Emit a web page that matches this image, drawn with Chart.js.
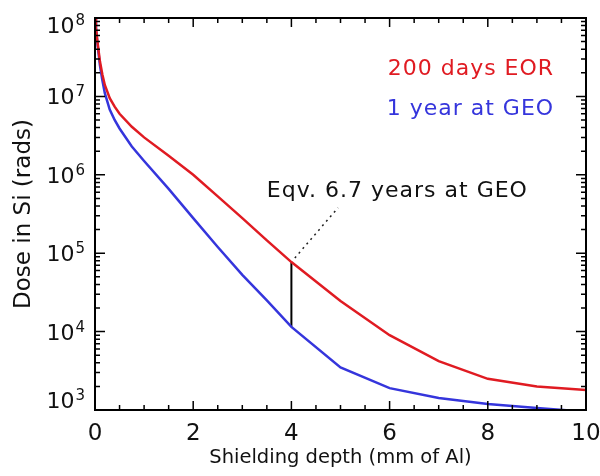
<!DOCTYPE html>
<html lang="en">
<head>
    <meta charset="UTF-8">
    <title>Dose vs shielding depth</title>
    <script src="https://cdn.jsdelivr.net/npm/chart.js"></script>
    <style>
        html, body { margin: 0; padding: 0; background: #fff; }
        #wrap { width: 600px; height: 476px; }
    </style>
</head>
<body>
    <div id="wrap"><canvas id="doseChart" width="600" height="476"></canvas></div>

    <script>
        // shielding depth in mm of Al
        const depths = [0, 0.02, 0.05, 0.1, 0.15, 0.2, 0.3, 0.4, 0.5, 0.75, 1, 1.5, 2, 2.5, 3, 3.5, 4, 5, 6, 7, 8, 9, 10];
        // dose in Si (rads)
        const eorDose = [1.0e8, 7.5e7, 5.0e7, 2.8e7, 1.9e7, 1.4e7, 9.5e6, 7.4e6, 6.0e6, 4.1e6, 3.0e6, 1.75e6, 1.0e6, 5.3e5, 2.8e5, 1.46e5, 7.7e4, 2.45e4, 9.0e3, 4.2e3, 2.5e3, 2.0e3, 1.8e3];
        const geoDose = [1.0e8, 7.3e7, 4.7e7, 2.5e7, 1.6e7, 1.1e7, 6.8e6, 5.0e6, 3.9e6, 2.3e6, 1.5e6, 6.6e5, 2.8e5, 1.2e5, 5.3e4, 2.5e4, 1.15e4, 3.5e3, 1.9e3, 1.42e3, 1.19e3, 1.06e3, 0.95e3];

        const seriesNames = ["200 days EOR", "1 year at GEO"];
        const xTicks = [0, 2, 4, 6, 8, 10];
        const yExponents = [3, 4, 5, 6, 7, 8];

        // annotation: bar at 4 mm and dotted leader to the label
        const markDepth = 4;
        const leaderX = [4.07, 4.95];
        const leaderY = [8.7e4, 3.8e5];
        const noteText = "Eqv. 6.7 years at GEO";

        const RED = "#e01b22";
        const BLUE = "#3535dc";
        const FONT = "DejaVu Sans";

        const points = (xs, ys) => xs.map((x, i) => ({ x: x, y: ys[i] }));
        const markIdx = depths.indexOf(markDepth);

        const frameTicks = {
            id: "frameTicks",
            afterDraw(chart) {
                const { ctx, chartArea: a, scales: { x, y } } = chart;
                ctx.save();
                ctx.strokeStyle = "#000";
                ctx.lineWidth = 2;
                ctx.strokeRect(a.left, a.top, a.right - a.left, a.bottom - a.top);

                ctx.lineWidth = 1.5;
                ctx.beginPath();
                // x ticks every 0.5 mm, major every 2
                for (let v = 0; v <= 10.001; v += 0.5) {
                    const px = x.getPixelForValue(v);
                    const len = (Math.round(v * 2) % 4 === 0) ? 9 : 5;
                    ctx.moveTo(px, a.bottom); ctx.lineTo(px, a.bottom - len);
                    ctx.moveTo(px, a.top); ctx.lineTo(px, a.top + len);
                }
                // y ticks: decades + minors
                for (let e = 3; e <= 8; e++) {
                    for (let m = 1; m <= 9; m++) {
                        const val = m * Math.pow(10, e);
                        if (val > 1e8) break;
                        const py = y.getPixelForValue(val);
                        const len = m === 1 ? 10 : 5;
                        ctx.moveTo(a.left, py); ctx.lineTo(a.left + len, py);
                        ctx.moveTo(a.right, py); ctx.lineTo(a.right - len, py);
                    }
                }
                ctx.stroke();

                // y tick labels, 10 with raised exponent
                ctx.fillStyle = "#111";
                ctx.textBaseline = "alphabetic";
                yExponents.forEach(e => {
                    let py = y.getPixelForValue(Math.pow(10, e)) + 8;
                    if (e === 8) py += 7;
                    if (e === 3) py -= 10;
                    ctx.font = "15px '" + FONT + "'";
                    ctx.textAlign = "left";
                    const expW = ctx.measureText(String(e)).width;
                    const expX = a.left - 10 - expW;
                    ctx.fillText(String(e), expX, py - 8);
                    ctx.font = "22px '" + FONT + "'";
                    ctx.textAlign = "right";
                    ctx.fillText("10", expX - 1, py);
                });

                // series labels
                ctx.font = "22px '" + FONT + "'";
                ctx.letterSpacing = "1px";
                ctx.textAlign = "right";
                ctx.textBaseline = "middle";
                ctx.fillStyle = RED;
                ctx.fillText(seriesNames[0], x.getPixelForValue(9.33) + 1, y.getPixelForValue(2.2e7));
                ctx.fillStyle = BLUE;
                ctx.fillText(seriesNames[1], x.getPixelForValue(9.33) + 1, y.getPixelForValue(6.9e6));

                // annotation label
                ctx.fillStyle = "#111";
                ctx.textAlign = "left";
                ctx.fillText(noteText, x.getPixelForValue(3.5), y.getPixelForValue(6.2e5));
                ctx.restore();
            }
        };

        new Chart(document.getElementById("doseChart"), {
            type: "line",
            data: {
                datasets: [
                    {
                        label: seriesNames[0],
                        data: points(depths, eorDose),
                        borderColor: RED,
                        borderWidth: 2.5,
                        pointRadius: 0,
                        tension: 0
                    },
                    {
                        label: seriesNames[1],
                        data: points(depths, geoDose),
                        borderColor: BLUE,
                        borderWidth: 2.5,
                        pointRadius: 0,
                        tension: 0
                    },
                    {
                        label: "bar",
                        data: [{ x: markDepth, y: geoDose[markIdx] }, { x: markDepth, y: eorDose[markIdx] }],
                        borderColor: "#000",
                        borderWidth: 2,
                        pointRadius: 0
                    },
                    {
                        label: "leader",
                        data: points(leaderX, leaderY),
                        borderColor: "#222",
                        borderWidth: 1.5,
                        borderDash: [2, 4],
                        pointRadius: 0
                    }
                ]
            },
            options: {
                responsive: false,
                animation: false,
                layout: { padding: { top: 18, right: 14, left: 0, bottom: 0 } },
                plugins: { legend: { display: false }, tooltip: { enabled: false } },
                scales: {
                    x: {
                        type: "linear",
                        min: 0,
                        max: 10,
                        afterFit: s => { s.height = 66; s.paddingLeft = 0; s.paddingRight = 0; },
                        afterBuildTicks: s => { s.ticks = xTicks.map(v => ({ value: v })); },
                        grid: { display: false, drawTicks: false },
                        border: { display: false },
                        ticks: {
                            padding: 10,
                            color: "#111",
                            maxRotation: 0,
                            font: { family: FONT, size: 23 }
                        },
                        title: {
                            display: true,
                            text: "Shielding depth (mm of Al)",
                            color: "#111",
                            font: { family: FONT, size: 19.5 },
                            padding: { top: 0, bottom: 6 }
                        }
                    },
                    y: {
                        type: "logarithmic",
                        min: 1e3,
                        max: 1e8,
                        afterFit: s => { s.width = 95; s.paddingTop = 0; s.paddingBottom = 0; },
                        grid: { display: false, drawTicks: false },
                        border: { display: false },
                        ticks: { display: false },
                        title: {
                            display: true,
                            text: "Dose in Si (rads)",
                            color: "#111",
                            font: { family: FONT, size: 23 },
                            padding: { top: 10, bottom: 0 }
                        }
                    }
                }
            },
            plugins: [frameTicks]
        });
    </script>
</body>
</html>
